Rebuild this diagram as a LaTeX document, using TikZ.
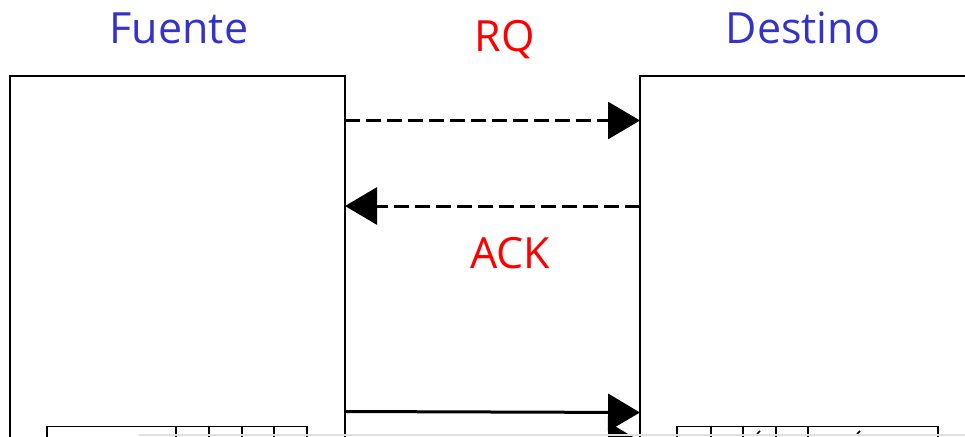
\documentclass[tikz,border=0pt]{standalone}
\usepackage{fontspec}
\setmainfont{Open Sans}
\usetikzlibrary{arrows.meta}
\definecolor{ttlblue}{RGB}{51,51,204}
\tikzset{
  box/.style={draw=black, line width=1.5pt},
  cell/.style={draw=black, line width=1.5pt},
  msg/.style={line width=3pt, -{Triangle[length=32pt,width=37pt]}},
  dashmsg/.style={msg, dash pattern=on 15pt off 6pt},
  ttl/.style={text=ttlblue, font=\fontsize{43}{50}\selectfont, inner sep=0pt, anchor=base},
  lbl/.style={text=red, font=\fontsize{43}{50}\selectfont, inner sep=0pt, anchor=base},
}
\begin{document}
\begin{tikzpicture}[x=1pt,y=-1pt]
\useasboundingbox (0,0) rectangle (965,436);
\clip (0,0) rectangle (965,436);
\fill[white] (0,0) rectangle (965,436);
% titles
\node[ttl] (fuente) at (179,44) {Fuente};
\node[ttl] (destino) at (803,44) {Destino};
\node[lbl] (rq) at (505,52) {RQ};
\node[lbl] (ack) at (510,268) {ACK};
% boxes
\draw[box] (10,500) |- (345,76) -- (345,500);
\draw[box] (640,500) |- (1000,76);
\coordinate (srcR) at (345,76);
\coordinate (dstL) at (640,76);
% arrows
\coordinate (a1s) at (345,120.5);
\coordinate (a1e) at (640,120.5);
\coordinate (a2s) at (640,206);
\coordinate (a2e) at (345,206);
\coordinate (a3s) at (345,411.5);
\coordinate (a3e) at (640,412.5);
\coordinate (a4s) at (345,441);
\coordinate (a4e) at (640,441);
\draw[dashmsg] (a1s) -- (a1e);
\draw[dashmsg] (a2s) -- (a2e);
\draw[msg] (a3s) -- (a3e);
\draw[msg] (a4s) -- (a4e);
% left table
\draw[cell] (47,460) |- (307,426.5) -- (307,460);
\foreach \x in {176,209,242,274} \draw[cell] (\x,426.5) -- (\x,460);
% right table
\draw[cell] (677,460) |- (938,426.5) -- (938,460);
\foreach \x in {711,743,776,808} \draw[cell] (\x,426.5) -- (\x,460);
\draw[line width=1.5pt] (757,434) -- (760,431);
\draw[line width=1.5pt] (857,434) -- (860,431);
% grey line
\draw[line width=1.5pt, black!12] (139,434.8) -- (965,434.8);
\end{tikzpicture}
\end{document}
